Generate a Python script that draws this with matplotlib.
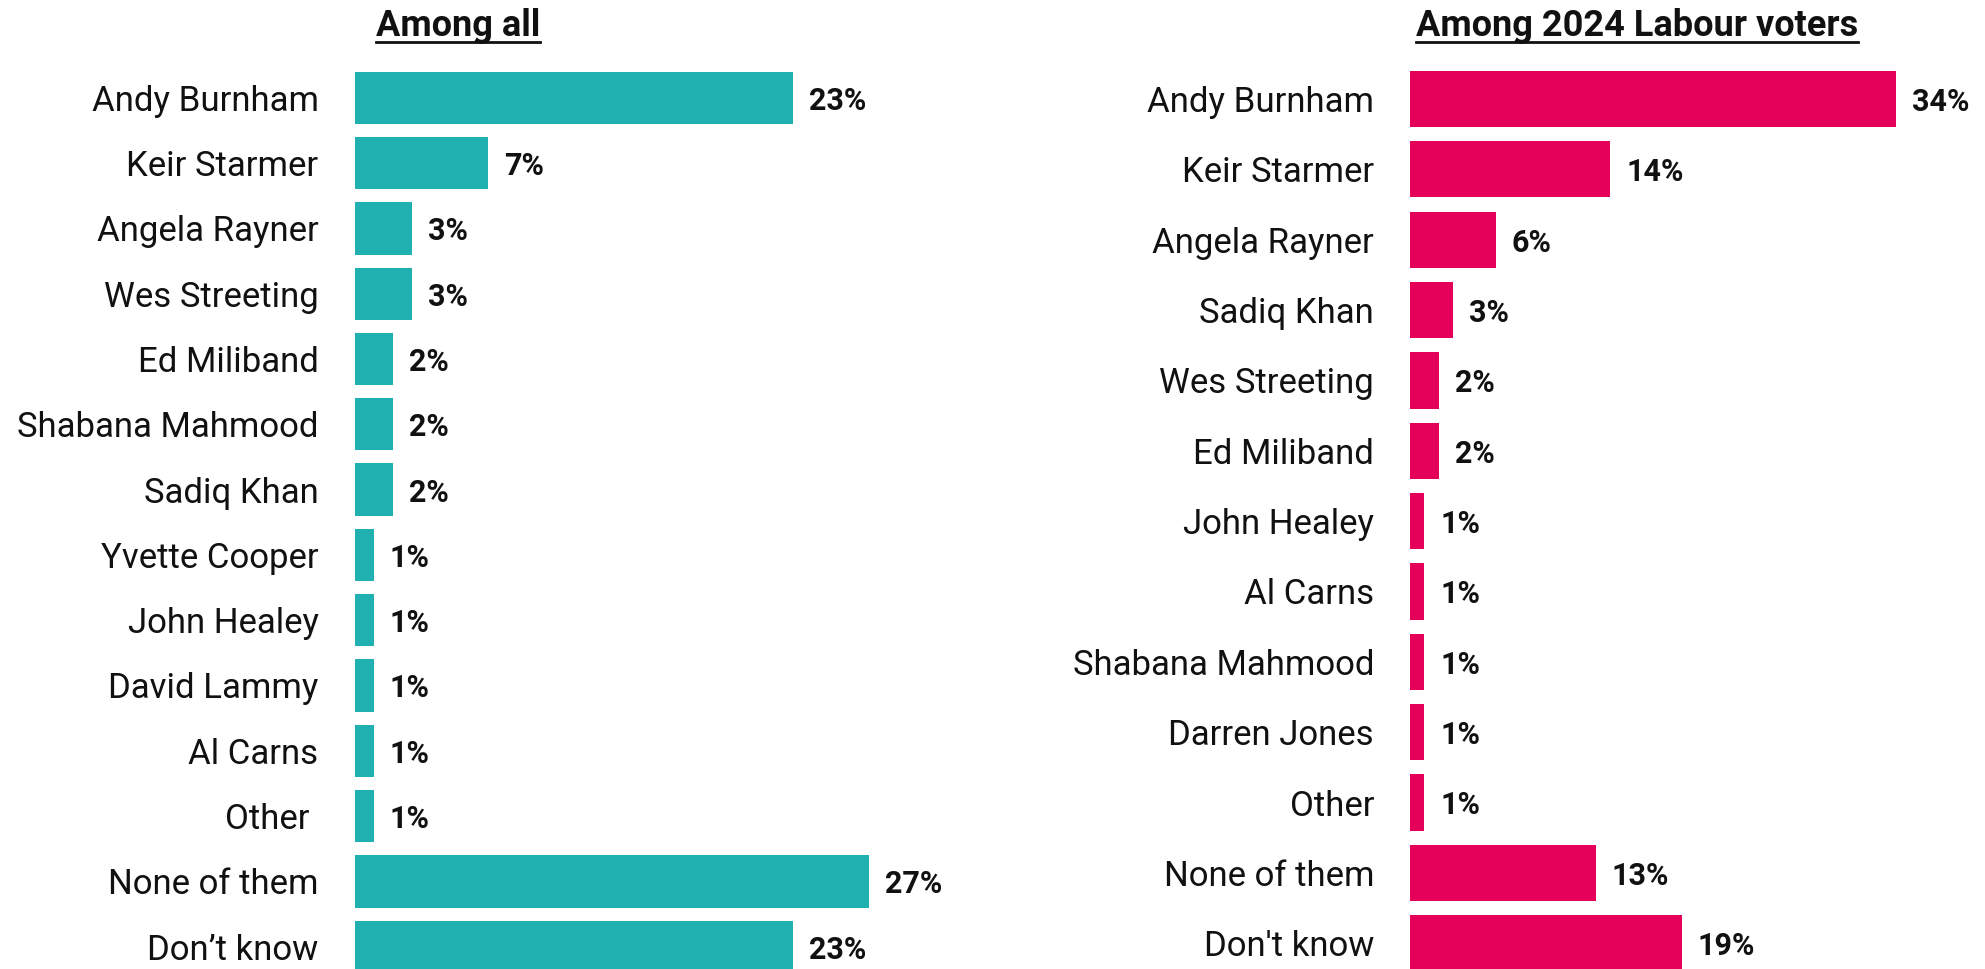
import matplotlib
matplotlib.use('Agg')
import matplotlib.pyplot as plt
from matplotlib.lines import Line2D

plt.rcParams['font.family'] = ['Roboto', 'DejaVu Sans']

# Données
all_labels = ['Andy Burnham', 'Keir Starmer', 'Angela Rayner', 'Wes Streeting',
              'Ed Miliband', 'Shabana Mahmood', 'Sadiq Khan', 'Yvette Cooper',
              'John Healey', 'David Lammy', 'Al Carns', 'Other ',
              'None of them', 'Don\u2019t know']
all_values = [23, 7, 3, 3, 2, 2, 2, 1, 1, 1, 1, 1, 27, 23]

lab_labels = ['Andy Burnham', 'Keir Starmer', 'Angela Rayner', 'Sadiq Khan',
              'Wes Streeting', 'Ed Miliband', 'John Healey', 'Al Carns',
              'Shabana Mahmood', 'Darren Jones', 'Other', 'None of them',
              "Don't know"]
lab_values = [34, 14, 6, 3, 2, 2, 1, 1, 1, 1, 1, 13, 19]

W, H = 1985, 969
fig = plt.figure(figsize=(W / 100, H / 100), dpi=100)
fig.patch.set_facecolor('white')


def panel(x0, x1, px_per_unit, first_center, pitch, labels, values, color):
    ax = fig.add_axes([x0 / W, 0, (x1 - x0) / W, 1])
    ax.set_xlim(0, (x1 - x0) / px_per_unit)
    ax.set_ylim((H - first_center) / pitch, -first_center / pitch)
    pos = list(range(len(labels)))
    ax.barh(pos, values, height=0.8, color=color)
    for y, v in zip(pos, values):
        ax.annotate(f'{v}%', (v, y), xytext=(11.5, 0), textcoords='offset points',
                    ha='left', va='center_baseline', fontsize=22,
                    fontweight='bold', color='#111111')
    ax.set_yticks(pos)
    ax.set_yticklabels(labels, fontsize=25, color='#111111')
    for t in ax.get_yticklabels():
        t.set_verticalalignment('center_baseline')
    ax.tick_params(axis='y', length=0, pad=26)
    ax.set_xticks([])
    for s in ax.spines.values():
        s.set_visible(False)
    ax.patch.set_alpha(0)
    return ax


panel(354.7, 1000, 19.04, 97.8, 65.3, all_labels, all_values, '#1FB0AF')
panel(1410.2, 1985, 14.29, 99.0, 70.35, lab_labels, lab_values, '#E5005A')

# Titres soulignés
titles = [('Among all', 458), ('Among 2024 Labour voters', 1637)]
title_objs = []
for txt, cx in titles:
    t = fig.text(cx / W, 1 - 36 / H, txt, ha='center', va='baseline',
                 fontsize=26, fontweight='bold', color='#111111')
    title_objs.append(t)

fig.canvas.draw()
renderer = fig.canvas.get_renderer()
for t in title_objs:
    bb = t.get_window_extent(renderer)
    yline = 1 - 41.5 / H
    fig.add_artist(Line2D([bb.x0 / W, bb.x1 / W], [yline, yline],
                          transform=fig.transFigure, color='#111111', lw=2))

plt.savefig('out.png', dpi=100)
plt.close()
